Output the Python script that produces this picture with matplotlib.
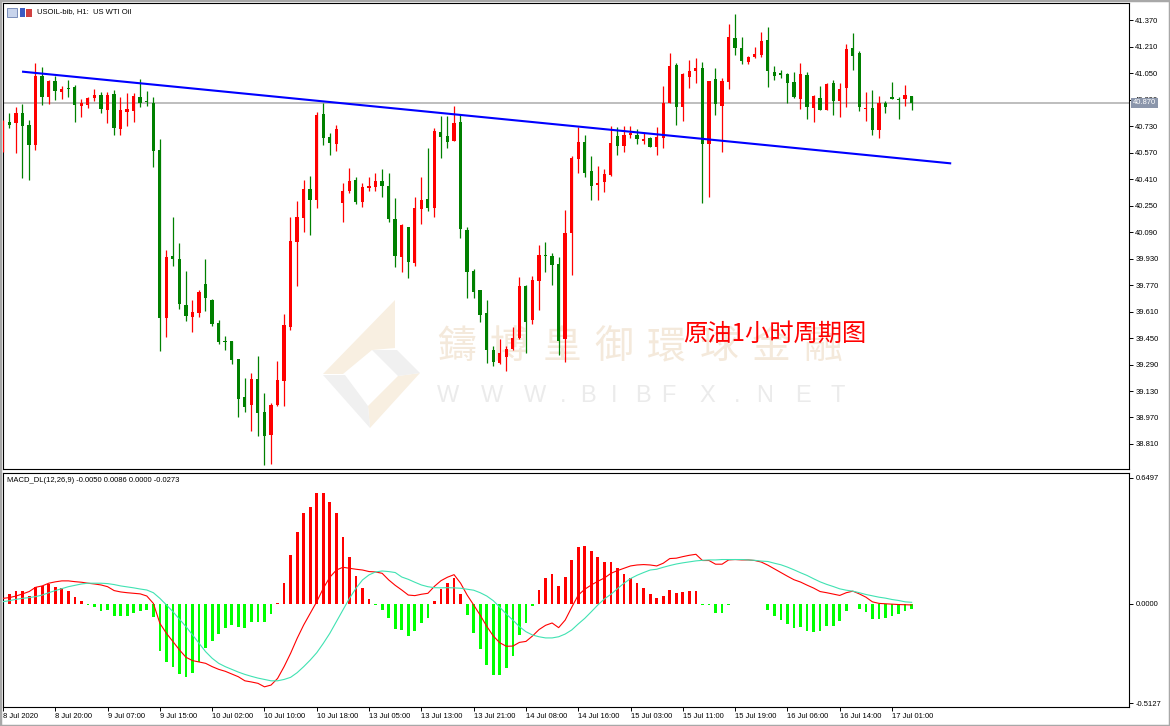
import numpy as np
import matplotlib.pyplot as plt
from matplotlib.patches import Rectangle, Polygon
from matplotlib.transforms import blended_transform_factory

plt.rcParams['font.family'] = ['Liberation Sans', 'DejaVu Sans']

# ------------------------------
# USOIL-bib H1 bars, 8 Jul 2020 12:00 -> 17 Jul 2020 03:00
# ------------------------------
opens = [40.585, 40.754, 40.748, 40.809, 40.736, 40.615, 41.032, 40.905, 41.002, 40.935,
         40.959, 40.965, 40.851, 40.857, 40.899, 40.917, 40.827, 40.923, 40.712, 40.815,
         40.821, 40.905, 40.881, 40.869, 40.585, 39.571, 39.945, 39.927, 39.649, 39.577,
         39.601, 39.776, 39.680, 39.541, 39.432, 39.432, 39.323, 39.094, 39.046, 39.203,
         39.003, 38.864, 39.046, 39.190, 39.516, 40.030, 40.175, 40.350, 40.283, 40.802,
         40.664, 40.621, 40.265, 40.338, 40.404, 40.271, 40.356, 40.362, 40.398, 40.368,
         40.168, 39.939, 40.120, 39.903, 40.229, 40.289, 40.235, 40.694, 40.670, 40.640,
         40.754, 40.102, 39.855, 39.740, 39.601, 39.378, 39.299, 39.335, 39.384, 39.450,
         39.764, 39.559, 39.794, 39.951, 39.945, 39.897, 39.444, 40.084, 40.531, 40.634,
         40.458, 40.374, 40.392, 40.434, 40.670, 40.609, 40.676, 40.676, 40.640, 40.658,
         40.603, 40.658, 40.869, 41.098, 40.845, 41.026, 41.062, 41.080, 40.621, 41.014,
         40.851, 40.996, 41.261, 41.201, 41.116, 41.147, 41.159, 41.249, 41.056, 41.050,
         41.044, 40.996, 40.893, 41.038, 40.839, 40.899, 40.827, 40.990, 40.881, 40.959,
         41.201, 41.171, 40.833, 40.839, 40.706, 40.869, 40.905, 40.893, 40.893, 40.911]
highs = [40.766, 40.809, 40.845, 40.863, 40.766, 41.110, 41.086, 41.008, 41.032, 40.972,
         41.008, 40.978, 40.893, 40.905, 40.953, 40.935, 40.935, 40.947, 40.905, 40.929,
         40.929, 41.014, 40.941, 40.905, 40.652, 39.981, 40.181, 40.024, 39.855, 39.680,
         39.740, 39.927, 39.685, 39.559, 39.462, 39.432, 39.323, 39.209, 39.239, 39.341,
         39.118, 39.058, 39.311, 39.595, 40.181, 40.277, 40.404, 40.428, 40.815, 40.869,
         40.688, 40.736, 40.386, 40.476, 40.422, 40.386, 40.422, 40.446, 40.470, 40.446,
         40.295, 40.138, 40.120, 40.302, 40.422, 40.597, 40.718, 40.790, 40.790, 40.851,
         40.797, 40.120, 39.867, 39.740, 39.680, 39.402, 39.444, 39.402, 39.516, 39.818,
         39.770, 39.824, 40.012, 40.030, 39.963, 39.939, 40.223, 40.549, 40.724, 40.676,
         40.549, 40.489, 40.470, 40.730, 40.724, 40.730, 40.730, 40.712, 40.688, 40.664,
         40.724, 40.972, 41.171, 41.110, 41.050, 41.129, 41.141, 41.116, 41.002, 41.080,
         41.020, 41.346, 41.406, 41.267, 41.153, 41.207, 41.298, 41.328, 41.092, 41.068,
         41.050, 41.056, 41.110, 41.056, 40.917, 40.972, 40.990, 41.008, 40.990, 41.225,
         41.292, 41.183, 40.935, 40.947, 40.911, 40.881, 40.996, 40.905, 40.978, 40.911]
lows = [40.573, 40.718, 40.567, 40.416, 40.404, 40.585, 40.857, 40.863, 40.887, 40.893,
        40.905, 40.754, 40.784, 40.839, 40.881, 40.809, 40.748, 40.676, 40.676, 40.730,
        40.754, 40.845, 40.851, 40.483, 39.372, 39.456, 39.885, 39.625, 39.553, 39.486,
        39.577, 39.613, 39.522, 39.414, 39.378, 39.293, 38.973, 39.003, 38.889, 38.858,
        38.683, 38.689, 39.040, 39.040, 39.498, 39.764, 40.090, 40.072, 40.235, 40.615,
        40.555, 40.579, 40.150, 40.326, 40.260, 40.241, 40.338, 40.338, 40.302, 40.150,
        39.879, 39.849, 39.812, 39.885, 40.138, 40.217, 40.181, 40.537, 40.597, 40.640,
        40.054, 39.692, 39.692, 39.547, 39.299, 39.281, 39.293, 39.251, 39.378, 39.444,
        39.360, 39.535, 39.619, 39.849, 39.770, 39.348, 39.305, 39.830, 40.446, 40.422,
        40.283, 40.283, 40.332, 40.428, 40.555, 40.573, 40.658, 40.621, 40.621, 40.603,
        40.555, 40.597, 40.869, 40.736, 40.760, 40.959, 40.990, 40.265, 40.302, 40.797,
        40.573, 40.953, 41.159, 41.104, 41.104, 41.141, 41.147, 40.965, 41.008, 41.020,
        40.869, 40.899, 40.833, 40.772, 40.754, 40.827, 40.827, 40.797, 40.784, 40.845,
        41.068, 40.821, 40.760, 40.676, 40.658, 40.809, 40.893, 40.772, 40.851, 40.827]
closes = [40.748, 40.736, 40.809, 40.730, 40.615, 41.032, 40.905, 41.002, 40.941, 40.953,
          40.953, 40.857, 40.869, 40.899, 40.917, 40.833, 40.917, 40.718, 40.827, 40.833,
          40.911, 40.869, 40.875, 40.579, 39.571, 39.939, 39.927, 39.655, 39.583, 39.607,
          39.728, 39.692, 39.535, 39.426, 39.426, 39.317, 39.082, 39.033, 39.203, 38.997,
          38.858, 39.046, 39.197, 39.528, 40.036, 40.181, 40.350, 40.283, 40.796, 40.658,
          40.627, 40.712, 40.338, 40.398, 40.271, 40.362, 40.368, 40.398, 40.368, 40.168,
          39.945, 40.132, 39.909, 40.235, 40.283, 40.235, 40.700, 40.664, 40.634, 40.748,
          40.108, 39.849, 39.728, 39.589, 39.378, 39.305, 39.360, 39.384, 39.450, 39.764,
          39.547, 39.800, 39.951, 39.945, 39.891, 39.432, 40.084, 40.537, 40.634, 40.446,
          40.368, 40.386, 40.440, 40.627, 40.609, 40.676, 40.688, 40.652, 40.652, 40.603,
          40.664, 40.869, 41.092, 40.845, 41.044, 41.062, 41.080, 40.621, 41.002, 40.863,
          41.002, 41.267, 41.201, 41.122, 41.147, 41.165, 41.243, 41.062, 41.032, 41.038,
          40.990, 40.905, 41.044, 40.845, 40.911, 40.827, 40.984, 40.881, 40.953, 41.195,
          41.153, 40.845, 40.839, 40.706, 40.869, 40.845, 40.893, 40.887, 40.917, 40.870]

# MACD_DL(12,26,9): histogram, main line, signal line
macd_hist = [0.034, 0.052, 0.069, 0.069, 0.043, 0.086, 0.093, 0.101, 0.089, 0.082,
             0.065, 0.038, 0.017, -0.005, -0.014, -0.034, -0.031, -0.060, -0.060, -0.060,
             -0.045, -0.034, -0.031, -0.069, -0.241, -0.297, -0.323, -0.363, -0.375, -0.357,
             -0.301, -0.229, -0.189, -0.155, -0.125, -0.108, -0.117, -0.125, -0.091, -0.091,
             -0.091, -0.052, 0.007, 0.107, 0.253, 0.373, 0.467, 0.498, 0.574, 0.570,
             0.527, 0.471, 0.347, 0.244, 0.144, 0.081, 0.024, -0.003, -0.031, -0.074,
             -0.129, -0.134, -0.163, -0.137, -0.096, -0.070, 0.015, 0.076, 0.107, 0.136,
             0.052, -0.057, -0.151, -0.234, -0.314, -0.366, -0.366, -0.332, -0.268, -0.160,
             -0.100, -0.010, 0.072, 0.132, 0.153, 0.093, 0.141, 0.227, 0.296, 0.299,
             0.275, 0.244, 0.218, 0.216, 0.184, 0.155, 0.132, 0.107, 0.081, 0.052,
             0.033, 0.041, 0.072, 0.058, 0.064, 0.069, 0.069, -0.005, -0.005, -0.045,
             -0.048, -0.003, -0.002, -0.002, -0.002, -0.002, -0.002, -0.031, -0.060, -0.082,
             -0.103, -0.125, -0.120, -0.141, -0.144, -0.141, -0.112, -0.112, -0.089, -0.034,
             0.000, -0.026, -0.043, -0.077, -0.077, -0.072, -0.060, -0.051, -0.038, -0.028]
macd_line = [0.029, 0.033, 0.041, 0.052, 0.064, 0.086, 0.093, 0.107, 0.114, 0.119,
             0.119, 0.115, 0.112, 0.107, 0.103, 0.098, 0.089, 0.069, 0.062, 0.058,
             0.055, 0.052, 0.041, 0.003, -0.100, -0.151, -0.194, -0.237, -0.275, -0.292,
             -0.299, -0.306, -0.323, -0.337, -0.347, -0.361, -0.375, -0.396, -0.402, -0.409,
             -0.427, -0.418, -0.384, -0.323, -0.254, -0.177, -0.108, -0.048, 0.012, 0.081,
             0.138, 0.175, 0.189, 0.184, 0.179, 0.175, 0.167, 0.165, 0.158, 0.124,
             0.096, 0.072, 0.046, 0.043, 0.050, 0.055, 0.091, 0.120, 0.138, 0.151,
             0.107, 0.046, -0.005, -0.058, -0.115, -0.165, -0.200, -0.218, -0.217, -0.198,
             -0.193, -0.165, -0.132, -0.110, -0.098, -0.122, -0.083, -0.017, 0.046, 0.076,
             0.098, 0.117, 0.134, 0.158, 0.172, 0.184, 0.196, 0.201, 0.203, 0.201,
             0.196, 0.210, 0.234, 0.236, 0.244, 0.251, 0.256, 0.224, 0.224, 0.205,
             0.205, 0.227, 0.229, 0.227, 0.227, 0.224, 0.216, 0.200, 0.181, 0.162,
             0.143, 0.125, 0.113, 0.097, 0.082, 0.064, 0.058, 0.051, 0.044, 0.058,
             0.066, 0.052, 0.035, 0.011, 0.003, 0.001, -0.001, -0.003, -0.004, -0.005]
signal_line = [0.012, 0.017, 0.024, 0.029, 0.033, 0.038, 0.046, 0.058, 0.069, 0.079,
               0.089, 0.096, 0.103, 0.107, 0.107, 0.107, 0.105, 0.100, 0.093, 0.088,
               0.083, 0.077, 0.072, 0.058, 0.029, -0.005, -0.040, -0.079, -0.117, -0.160,
               -0.203, -0.246, -0.280, -0.306, -0.323, -0.337, -0.351, -0.363, -0.373, -0.382,
               -0.389, -0.396, -0.396, -0.389, -0.378, -0.354, -0.323, -0.289, -0.251, -0.203,
               -0.151, -0.091, -0.031, 0.029, 0.081, 0.124, 0.150, 0.165, 0.170, 0.167,
               0.162, 0.139, 0.127, 0.112, 0.098, 0.089, 0.084, 0.083, 0.084, 0.083,
               0.081, 0.076, 0.071, 0.058, 0.041, 0.017, -0.017, -0.052, -0.083, -0.117,
               -0.143, -0.160, -0.169, -0.175, -0.175, -0.169, -0.155, -0.134, -0.103, -0.074,
               -0.040, -0.005, 0.026, 0.050, 0.079, 0.107, 0.131, 0.148, 0.162, 0.175,
               0.179, 0.189, 0.198, 0.206, 0.212, 0.217, 0.222, 0.225, 0.227, 0.227,
               0.229, 0.229, 0.229, 0.229, 0.227, 0.225, 0.221, 0.219, 0.210, 0.202,
               0.190, 0.176, 0.161, 0.147, 0.130, 0.114, 0.101, 0.090, 0.078, 0.071,
               0.066, 0.058, 0.049, 0.042, 0.035, 0.030, 0.023, 0.018, 0.011, 0.0086]

date_labels = ["8 Jul 2020", "8 Jul 20:00", "9 Jul 07:00", "9 Jul 15:00", "10 Jul 02:00",
               "10 Jul 10:00", "10 Jul 18:00", "13 Jul 05:00", "13 Jul 13:00", "13 Jul 21:00",
               "14 Jul 08:00", "14 Jul 16:00", "15 Jul 03:00", "15 Jul 11:00", "15 Jul 19:00",
               "16 Jul 06:00", "16 Jul 14:00", "17 Jul 01:00"]
bars_per_label = 8
price_ticks = [41.370, 41.210, 41.050, 40.890, 40.730, 40.570, 40.410, 40.250, 40.090,
               39.930, 39.770, 39.610, 39.450, 39.290, 39.130, 38.970, 38.810]
macd_ticks = [0.6497, 0.0, -0.5127]
macd_tick_labels = ["0.6497", "0.0000", "-0.5127"]

# trend line drawn on the chart (bar index, price)
trend_x = [3.1, 144.9]
trend_y = [41.058, 40.505]
last_price = 40.870

# ------------------------------
# figure
# ------------------------------
W, H = 1170, 726
fig = plt.figure(figsize=(W / 100, H / 100), dpi=100)
ax = fig.add_axes([3 / W, 1 - 469 / H, 1126 / W, 466 / H])
ax2 = fig.add_axes([3 / W, 1 - 707 / H, 1126 / W, 234 / H])

x = np.arange(len(closes))
o = np.array(opens)
c = np.array(closes)
up = c >= o
cols = np.where(up, '#ff0000', '#008000')

# candles
ax.vlines(x, lows, highs, colors=cols, lw=0.9, zorder=3)
body_h = np.maximum(np.abs(c - o), 0.005)
body_mid = (c + o) / 2
ax.bar(x, body_h, bottom=body_mid - body_h / 2, width=0.5, color=cols, linewidth=0, zorder=4)

ax.axhline(last_price, color='#b9b9b9', lw=1.3, zorder=1)
ax.plot(trend_x, trend_y, color='#0000ff', lw=1.5, zorder=5)

ax.set_xlim(0.03, 172.25)
ax.set_ylim(38.659, 41.473)
ax.set_xticks([])
ax.yaxis.tick_right()
ax.set_yticks(price_ticks)
ax.set_yticklabels([f"{v:.3f}" for v in price_ticks])
ax.tick_params(axis='y', direction='out', length=3, width=0.7, pad=1.5, labelsize=5.5)

# bid price box on the axis
trans = blended_transform_factory(ax.transAxes, ax.transData)
ax.text(1.0 + 4 / 1126, last_price, "40.870", transform=trans, va='center', ha='left',
        fontsize=5.5, color='white', zorder=10, clip_on=False,
        bbox=dict(boxstyle='square,pad=0.2', fc='#8b96ab', ec='none'))

# watermark (light)
def px(xp, yp):
    return ((xp - 3) / 1126, (469 - yp) / 466)

wm_chars = "鑄博皇御環球金融"
for k, ch in enumerate(wm_chars):
    ax.text(*px(457 + 52.4 * k, 347), ch, transform=ax.transAxes, ha='center', va='center',
            fontsize=28, color='#f4e9db', family=['Noto Sans CJK TC', 'DejaVu Sans'], zorder=0)
www_chars = "WWW.BIBFX.NET"
www_x = [448, 492, 535, 563, 588, 614, 643, 668, 707, 737, 765, 803, 838]
for ch, xp in zip(www_chars, www_x):
    ax.text(*px(xp, 396), ch, transform=ax.transAxes, ha='center', va='center',
            fontsize=17, color='#ebebeb', zorder=0)
logo_beige = [[(395, 300), (395, 348), (372, 350), (343, 374), (323, 374)],
              [(398, 376), (420, 373), (370, 428), (368, 406)]]
logo_gray = [[(372, 350), (397, 350), (420, 373), (398, 376)],
             [(323, 375), (345, 375), (368, 406), (370, 428)]]
for poly in logo_beige:
    ax.add_patch(Polygon([px(*p) for p in poly], closed=True, transform=ax.transAxes,
                         fc='#f8efe1', ec='none', zorder=0))
for poly in logo_gray:
    ax.add_patch(Polygon([px(*p) for p in poly], closed=True, transform=ax.transAxes,
                         fc='#f0f0f0', ec='none', zorder=0))

ax.text(*px(683, 334), "原油1小时周期图", transform=ax.transAxes, ha='left', va='center',
        fontsize=17.5, color='#ff0000', family=['Noto Sans CJK SC', 'DejaVu Sans'], zorder=6)

# header
fig.text(37 / W, 1 - 12 / H, "USOIL-bib, H1:  US WTI Oil", fontsize=5.5, va='center', ha='left')
fig.patches.append(Rectangle((7 / W, 1 - 17 / H), 10 / W, 9 / H, transform=fig.transFigure,
                             fc='#c8d4ec', ec='#6a7fb0', lw=0.6))
fig.patches.append(Rectangle((20 / W, 1 - 17 / H), 5 / W, 9 / H, transform=fig.transFigure,
                             fc='#3b5bc4', ec='none'))
fig.patches.append(Rectangle((26 / W, 1 - 17 / H), 6 / W, 8 / H, transform=fig.transFigure,
                             fc='#d04040', ec='none'))

# MACD panel
hist = np.array(macd_hist)
ax2.bar(x, hist, width=0.42, color=np.where(hist >= 0, '#ff0000', '#00ff00'), linewidth=0, zorder=2)
ax2.plot(x, macd_line, color='#ff0000', lw=0.8, zorder=3)
ax2.plot(x, signal_line, color='#40e2b2', lw=0.8, zorder=3)
ax2.set_xlim(0.03, 172.25)
ax2.set_ylim(-0.531, 0.675)
ax2.yaxis.tick_right()
ax2.set_yticks(macd_ticks)
ax2.set_yticklabels(macd_tick_labels)
ax2.tick_params(axis='y', direction='out', length=3, width=0.7, pad=1.5, labelsize=5.5)
ax2.set_xticks(np.arange(0, len(closes), bars_per_label)[:len(date_labels)])
ax2.set_xticklabels(date_labels, ha='left')
ax2.tick_params(axis='x', direction='out', length=3, width=0.7, pad=1.5, labelsize=5.5)
ax2.text(0.0035, 0.985, "MACD_DL(12,26,9) -0.0050 0.0086 0.0000 -0.0273", transform=ax2.transAxes,
         va='top', ha='left', fontsize=5.5)

for a in (ax, ax2):
    for s in a.spines.values():
        s.set_color('black')
        s.set_linewidth(0.8)

fig.patches.append(Rectangle((0, 0), 1, 1, transform=fig.transFigure, fill=False,
                             ec='#a8a8a8', lw=2.5))

plt.savefig("out.png", dpi=100)
